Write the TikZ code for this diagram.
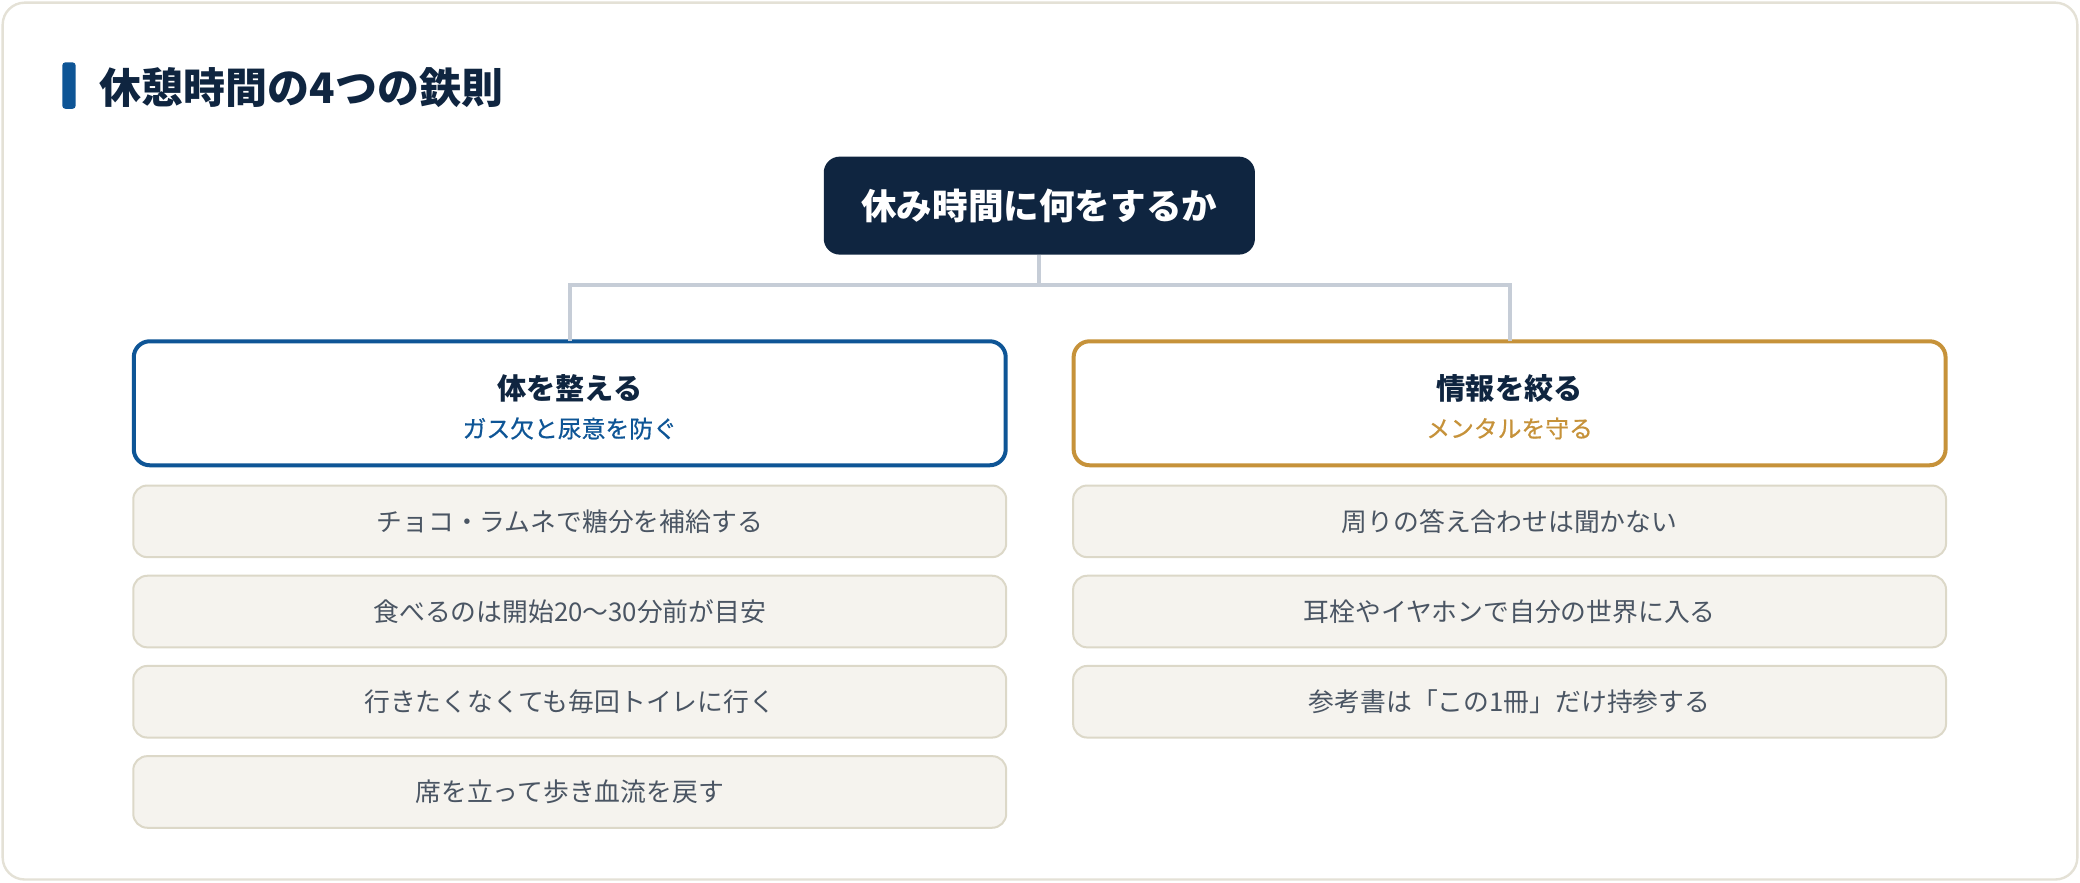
\documentclass[tikz,border=0pt]{standalone}
\usepackage{fontspec}
\setmainfont{Noto Sans CJK JP}
\newfontfamily\jpmed[FakeBold=0.6]{Noto Sans CJK JP}
\definecolor{navy}{HTML}{0F2540}
\definecolor{blueacc}{HTML}{0E5596}
\definecolor{goldacc}{HTML}{C6923A}
\definecolor{itemfill}{HTML}{F5F3EE}
\definecolor{itemline}{HTML}{DCD8C8}
\definecolor{itemtext}{HTML}{4A5563}
\definecolor{connline}{HTML}{C6CDD7}
\definecolor{cardline}{HTML}{E4E1D6}
\tikzset{
  rootbox/.style={fill=navy, rounded corners=8pt, minimum width=215.6pt, minimum height=49pt, inner sep=0pt, outer sep=0pt, text=white, font=\bfseries\fontsize{17.8pt}{20pt}\selectfont},
  catbox/.style={draw=#1, line width=2pt, fill=white, rounded corners=8pt, minimum width=436pt, minimum height=62pt, inner sep=0pt, outer sep=0pt},
  cattitle/.style={text=navy, font=\bfseries\fontsize{14.6pt}{16pt}\selectfont, inner sep=0pt},
  catsub/.style={text=#1, font=\jpmed\fontsize{11.9pt}{14pt}\selectfont, inner sep=0pt},
  itembox/.style={draw=itemline, line width=1pt, fill=itemfill, rounded corners=7pt, minimum width=436.5pt, minimum height=35.8pt, inner sep=0pt, outer sep=0pt, text=itemtext, font=\fontsize{12.9pt}{15pt}\selectfont},
  conn/.style={draw=connline, line width=2pt},
}
\begin{document}
\begin{tikzpicture}[x=0.6633pt,y=-0.6633pt]
\useasboundingbox (0,0) rectangle (1568,665);
\draw[draw=cardline, line width=1.2pt, fill=white, rounded corners=11pt] (2,2) rectangle (1566,663);
\fill[blueacc, rounded corners=1.5pt] (47,47) rectangle (57,82);
\node[anchor=west, text=navy, font=\bfseries\fontsize{21pt}{24pt}\selectfont, inner sep=0pt] (title) at (75,66) {休憩時間の4つの鉄則};
\node[rootbox] (root) at (783.5,155) {休み時間に何をするか};
\node[catbox=blueacc] (lc) at (429.5,304) {};
\node[catbox=goldacc] (rc) at (1138,304) {};
\node[cattitle] (lct) at (429.5,293) {体を整える};
\node[catsub=blueacc] (lcs) at (429.5,323) {ガス欠と尿意を防ぐ};
\node[cattitle] (rct) at (1138,293) {情報を絞る};
\node[catsub=goldacc] (rcs) at (1138,323) {メンタルを守る};
\coordinate (bus) at (783.5,215);
\draw[conn] (root.south) -- (bus);
\draw[conn] (bus) -| (lc.north);
\draw[conn] (bus) -| (rc.north);
\node[itembox] (l1) at (429.5,393) {チョコ・ラムネで糖分を補給する};
\node[itembox] (l2) at (429.5,461) {食べるのは開始20〜30分前が目安};
\node[itembox] (l3) at (429.5,529) {行きたくなくても毎回トイレに行く};
\node[itembox] (l4) at (429.5,597) {席を立って歩き血流を戻す};
\node[itembox] (r1) at (1138,393) {周りの答え合わせは聞かない};
\node[itembox] (r2) at (1138,461) {耳栓やイヤホンで自分の世界に入る};
\node[itembox] (r3) at (1138,529) {参考書は「この1冊」だけ持参する};
\end{tikzpicture}
\end{document}
